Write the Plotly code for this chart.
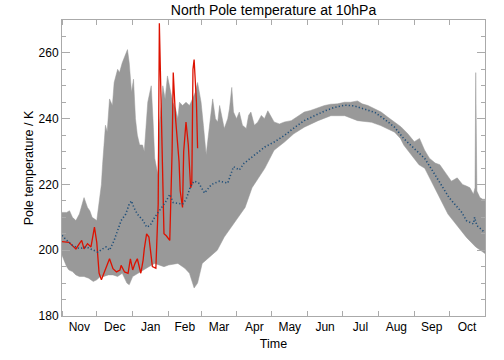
import pandas as pd
import plotly.graph_objects as go

BASE = "2022-11-01"

# ---- gray band: maximum (day of season, K)
upper_days = [0, 4, 6.5, 9, 12, 15, 19, 22, 24, 26, 30, 32, 34, 35, 37.5, 39, 41, 43.5, 45, 48, 49.6, 52, 54, 56.5, 58, 60, 61.7, 63.4, 65, 67, 69.5, 71, 74, 77, 78.5, 80, 82.7, 84, 87, 89, 91, 93.6, 95.6, 98, 100, 101.4, 104, 107, 110, 112.6, 115, 117, 120, 122, 124.4, 127, 130, 132.4, 134.4, 136, 138.5, 140, 143, 144.5, 146.5, 148, 150.6, 153, 155.7, 159, 161, 163, 166, 169, 172, 174.7, 177.6, 181, 183, 187.6, 192, 197.8, 203, 209, 214.4, 220.7, 226.5, 232, 237.7, 243.7, 249, 255, 259, 264, 269.6, 275.4, 281, 286.9, 292.6, 298.4, 304, 308.5, 312.8, 317, 322, 326, 331, 336, 341, 345.6, 349, 352, 355, 356.4, 357, 358, 360.6, 363, 365]
upper_vals = [211.5, 211.5, 212, 210, 209, 211, 216, 213, 212, 210, 209, 214, 220, 226, 238, 236, 246, 244, 251, 255, 254, 257, 259, 261, 257, 248, 252, 240, 235, 232, 232, 230, 245, 250, 240, 228, 223, 238, 250, 246, 253, 248, 245, 243, 240, 245, 244, 245, 244, 246, 248, 251, 245, 238, 229, 237, 246, 240, 239, 244, 239, 237, 240, 243, 249.5, 242, 240, 242, 238, 237, 241, 242, 238, 239, 241, 240, 242.4, 240, 239, 238.4, 239, 239.4, 240.5, 242, 242.5, 243.4, 244, 244.4, 244.5, 245, 245, 245.4, 244.5, 244, 243, 242, 240.5, 239, 237.5, 235.4, 233, 234, 230.5, 228, 226.5, 226, 223.5, 221, 222, 220, 219.5, 219, 217, 219, 254, 218, 216, 215.5, 215.5]

# ---- gray band: minimum
lower_days = [0, 2, 4, 6, 9, 12, 15, 19, 23, 27, 30, 33, 36, 40, 44, 48, 52, 56, 58, 61, 66, 70, 75, 80, 84, 88, 92, 100, 106, 110, 114, 117, 121, 127, 134, 140, 146, 152, 158, 164, 175, 183, 192, 200, 209, 221, 232, 244, 255, 267, 275, 287, 292, 295, 304, 308, 313, 326, 333, 349, 357, 365]
lower_vals = [198.5, 197, 195, 194, 193.5, 192.5, 192, 192, 191.5, 190.5, 191, 192, 192, 192.5, 192.5, 192, 193, 190, 189.5, 192, 193, 194, 195, 196, 195.5, 195, 195.5, 196, 194.5, 193, 188.5, 190, 196, 198, 200, 204, 207, 210, 213, 219, 224.9, 230.4, 232.9, 235.4, 237.4, 239.4, 240.9, 240.9, 239.4, 238.9, 237.9, 235.9, 234, 231.9, 227.9, 226, 224.9, 216, 211, 203.9, 201, 199]

# ---- climatological mean (dotted)
mean_days = [0, 4, 9, 15, 21, 27, 31, 35, 38, 41, 45, 48, 51, 55, 58, 60, 62, 65, 70, 73, 76, 80, 84, 90, 93, 96, 104, 107, 111, 114, 118, 123, 129, 136, 143, 148, 153, 157, 166, 175, 183, 192, 201, 209, 218, 227, 235, 244, 252, 261, 270, 278, 287, 295, 304, 313, 320, 334, 345, 349, 355, 356, 358, 365]
mean_vals = [204.5, 203, 201.5, 200.5, 201, 200, 199.4, 200.4, 201, 200, 203, 206, 209, 211, 214, 215, 213, 211, 209, 207, 207.5, 210, 212, 215, 217, 214.5, 214, 215.4, 219.5, 221, 220.4, 217.4, 220, 221, 220.4, 225.4, 224.4, 226.4, 228.9, 231.4, 232.9, 234.9, 237.4, 239.4, 240.9, 242.4, 243.4, 244.1, 243.9, 242.9, 241.9, 239.9, 237.4, 233.9, 230.9, 227.9, 224, 216, 211.5, 209, 208, 210, 207.5, 205.4]

# ---- current season (red)
cur_days = [0, 3, 6, 9, 12, 15, 17, 19, 22, 25, 28, 30, 32, 34, 35, 38, 41, 44, 47, 50, 51, 54, 57, 59, 61, 63, 65, 68, 70, 71, 73, 75, 78, 81, 83, 84, 86, 88, 90, 93, 95, 96, 98, 101, 102, 104, 105, 107, 109, 111, 112, 113, 114, 116, 117]
cur_vals = [202.6, 202.6, 202.4, 201.4, 200.4, 202, 203, 200.4, 202, 201, 207, 202.4, 193, 191, 192, 195, 197.4, 194.4, 193.4, 194, 195.4, 193.4, 193, 197.4, 194, 196, 197.4, 193, 197, 200.4, 205, 204, 195, 194.5, 214, 269, 235, 205, 204.4, 203, 230, 254, 240, 227, 218, 213, 230, 239, 232, 219, 220, 255, 258, 245, 231]

MONTHS = ["Nov", "Dec", "Jan", "Feb", "Mar", "Apr", "May", "Jun", "Jul", "Aug", "Sep", "Oct"]


def to_dates(days):
    return pd.Timestamp(BASE) + pd.to_timedelta(days, unit="D")


ux = list(to_dates(upper_days))
lx = list(to_dates(lower_days))

fig = go.Figure()
fig.add_trace(go.Scatter(
    x=ux + lx[::-1], y=upper_vals + lower_vals[::-1],
    fill="toself", fillcolor="#999999", mode="lines",
    line=dict(width=0.5, color="#999999"), hoverinfo="skip", showlegend=False))
fig.add_trace(go.Scatter(
    x=to_dates(cur_days), y=cur_vals, mode="lines",
    line=dict(color="#dd1100", width=1.3), showlegend=False))
fig.add_trace(go.Scatter(
    x=to_dates(mean_days), y=mean_vals, mode="lines",
    line=dict(color="#1f4f7a", width=1.6, dash="1.2px,2.2px"), showlegend=False))

axis_common = dict(
    showline=True, linecolor="#aaaaaa", linewidth=1, mirror="ticks",
    ticks="inside", tickcolor="#aaaaaa", showgrid=False, zeroline=False,
    tickfont=dict(size=12, color="black"),
)

fig.update_layout(
    width=504, height=360,
    margin=dict(l=62, r=19, t=20, b=40),
    paper_bgcolor="white", plot_bgcolor="white",
    font=dict(family="Liberation Sans", size=12, color="black"),
    title=dict(text="North Pole temperature at 10hPa", x=0.5, xref="paper",
               xanchor="center", y=1 - 10 / 360, yref="container",
               yanchor="middle", font=dict(size=14)),
    xaxis=dict(type="date", range=[BASE, "2023-11-01"], dtick="M1",
               tick0=BASE, tickformat="%b", ticklabelmode="period",
               ticklen=5, title=dict(text="Time", standoff=5,
                                     font=dict(size=12.5)),
               **axis_common),
    yaxis=dict(range=[180, 270], dtick=20, tick0=180, ticklen=8,
               minor=dict(dtick=5, ticks="inside", ticklen=4,
                          tickcolor="#aaaaaa"),
               title=dict(text="Pole temperature / K", standoff=2,
                          font=dict(size=12.5)),
               **axis_common),
)

fig.write_html("out.html",
               config={"displayModeBar": False},
               post_script="document.body.style.margin='0';"
                           "document.body.style.overflow='hidden';")
